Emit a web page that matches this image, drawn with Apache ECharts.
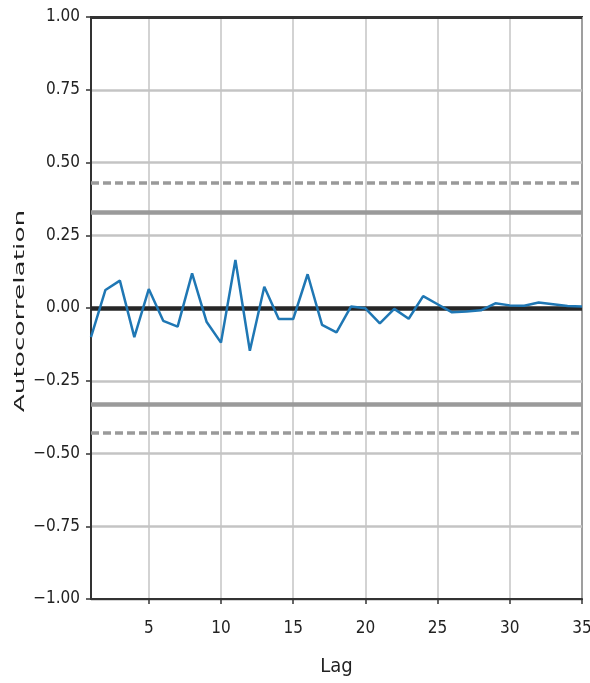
<!DOCTYPE html>
<html><head><meta charset="utf-8">
<script src="https://cdn.jsdelivr.net/npm/echarts@6/dist/echarts.min.js"></script>
<style>html,body{margin:0;padding:0;background:#fff}#c{width:590px;height:683px}</style>
</head><body><div id="c"></div>
<script>
const lags = [1,2,3,4,5,6,7,8,9,10,11,12,13,14,15,16,17,18,19,20,21,22,23,24,25,26,27,28,29,30,31,32,33,34,35];
const acf = [-0.100,0.062,0.094,-0.100,0.065,-0.044,-0.064,0.119,-0.047,-0.119,0.165,-0.147,0.073,-0.038,-0.038,0.116,-0.058,-0.084,0.005,-0.001,-0.053,-0.003,-0.037,0.041,0.013,-0.015,-0.012,-0.008,0.016,0.009,0.008,0.019,0.013,0.007,0.005];
const xTicks = [5,10,15,20,25,30,35];
const yTicks = [-1,-0.75,-0.5,-0.25,0,0.25,0.5,0.75,1];
const band95 = 0.331;
const band99 = 0.435;

const FONT = '"DejaVu Sans Condensed", "DejaVu Sans", sans-serif';
const chart = echarts.init(document.getElementById('c'), null, {renderer:'canvas'});
const fmt = v => (v < 0 ? '\u2212' : '') + Math.abs(v).toFixed(2);
chart.setOption({
  animation: false,
  backgroundColor: '#fff',
  grid: {left: 91, right: 8, top: 17, bottom: 84, show: true, borderColor: '#333', borderWidth: 2, backgroundColor: 'transparent', outerBoundsMode: 'none', containLabel: false},
  xAxis: {
    type: 'value', min: 1, max: 35,
    name: 'Lag', nameLocation: 'middle', nameGap: 58,
    nameTextStyle: {fontFamily: FONT, fontSize: 20, color: '#222'},
    axisLine: {show: true, onZero: false, lineStyle: {color: '#333', width: 2}},
    axisTick: {show: true, customValues: xTicks, length: 5, lineStyle: {color: '#333', width: 1.5}},
    axisLabel: {customValues: xTicks, fontFamily: FONT, fontSize: 17, color: '#222', margin: 21},
    splitLine: {show: true, lineStyle: {color: '#c4c4c4', width: 1.5}}
  },
  yAxis: {
    type: 'value', min: -1, max: 1, interval: 0.25,
    axisLine: {show: true, onZero: false, lineStyle: {color: '#333', width: 2}},
    axisTick: {show: true, length: 5, lineStyle: {color: '#333', width: 1.5}},
    axisLabel: {fontFamily: FONT, fontSize: 17, color: '#222', margin: 11, formatter: fmt},
    splitLine: {show: true, lineStyle: {color: '#c4c4c4', width: 2.5}}
  },
  graphic: [{
    type: 'text', x: 20, y: 311, rotation: Math.PI/2, scaleX: 1.88, scaleY: 1,
    style: {text: 'Autocorrelation', fontFamily: '"DejaVu Sans", sans-serif', fontSize: 14, fill: '#222', align: 'center', verticalAlign: 'middle'}
  }],
  series: [{
    type: 'line', data: lags.map((l,i)=>[l, acf[i]]), showSymbol: false, symbol: 'none',
    lineStyle: {color: '#1f77b4', width: 2.5}, z: 5,
    markLine: {
      silent: true, symbol: 'none', label: {show: false}, animation: false,
      data: [
        {yAxis: band99, lineStyle: {color: '#9a9a9a', width: 3.5, type: [8,4]}},
        {yAxis: band95, lineStyle: {color: '#9a9a9a', width: 4.5, type: 'solid'}},
        {yAxis: 0, lineStyle: {color: '#262626', width: 4.5, type: 'solid'}},
        {yAxis: -band95, lineStyle: {color: '#9a9a9a', width: 4.5, type: 'solid'}},
        {yAxis: -band99, lineStyle: {color: '#9a9a9a', width: 3.5, type: [8,4]}},
        {yAxis: 1, lineStyle: {color: '#333', width: 3, type: 'solid'}}
      ]
    }
  }]
});
</script></body></html>
